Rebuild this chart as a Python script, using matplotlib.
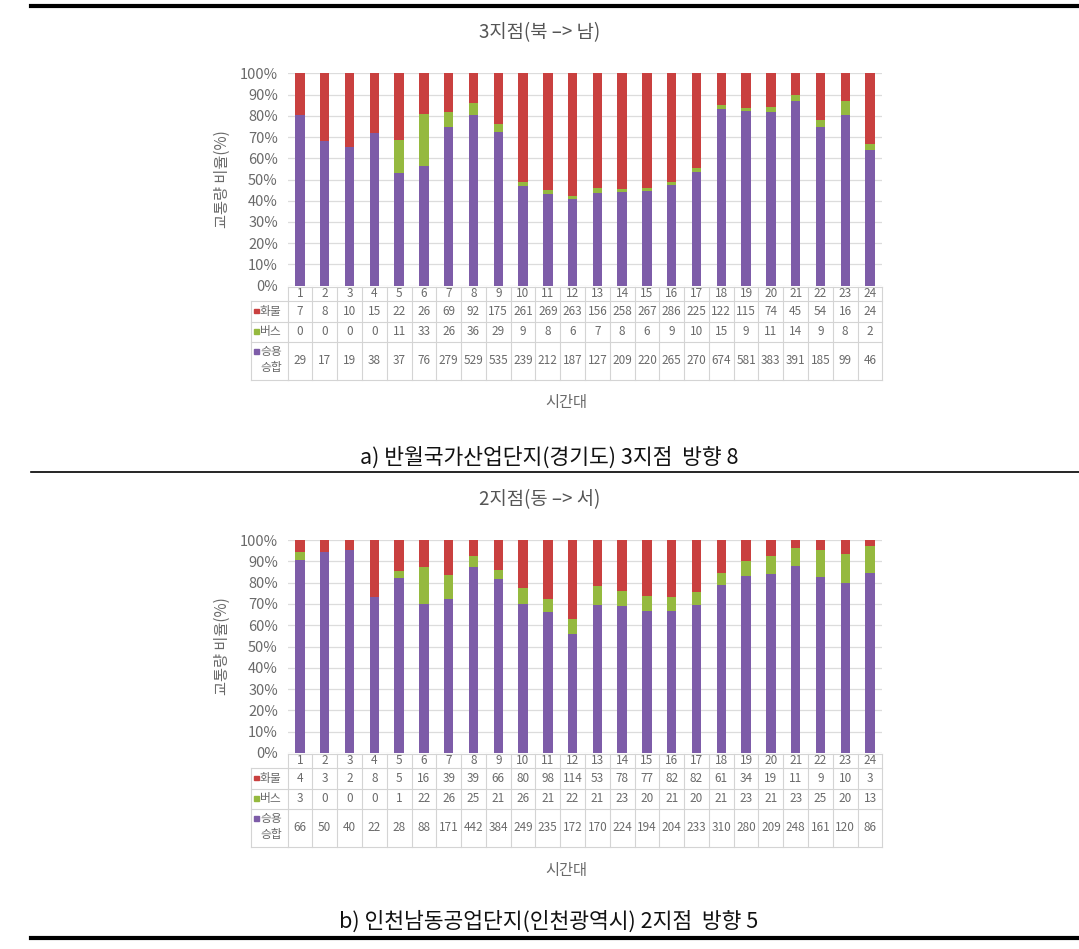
import matplotlib.pyplot as plt
import matplotlib.transforms as mtransforms
from matplotlib.lines import Line2D
from matplotlib.patches import Rectangle

plt.rcParams['font.family'] = ['Noto Sans CJK KR', 'DejaVu Sans']

# ---------------------------------------------------------------
# Data: hourly counts by vehicle type (truck / bus / car+van)
# ---------------------------------------------------------------
hours = list(range(1, 25))

truck_a = [7, 8, 10, 15, 22, 26, 69, 92, 175, 261, 269, 263,
           156, 258, 267, 286, 225, 122, 115, 74, 45, 54, 16, 24]
bus_a = [0, 0, 0, 0, 11, 33, 26, 36, 29, 9, 8, 6,
         7, 8, 6, 9, 10, 15, 9, 11, 14, 9, 8, 2]
car_a = [29, 17, 19, 38, 37, 76, 279, 529, 535, 239, 212, 187,
         127, 209, 220, 265, 270, 674, 581, 383, 391, 185, 99, 46]

truck_b = [4, 3, 2, 8, 5, 16, 39, 39, 66, 80, 98, 114,
           53, 78, 77, 82, 82, 61, 34, 19, 11, 9, 10, 3]
bus_b = [3, 0, 0, 0, 1, 22, 26, 25, 21, 26, 21, 22,
         21, 23, 20, 21, 20, 21, 23, 21, 23, 25, 20, 13]
car_b = [66, 50, 40, 22, 28, 88, 171, 442, 384, 249, 235, 172,
         170, 224, 194, 204, 233, 310, 280, 209, 248, 161, 120, 86]

W, H = 1079, 949
fig = plt.figure(figsize=(W / 100, H / 100), dpi=100)
# pixel coordinates, y pointing down
PX = mtransforms.Affine2D().scale(1 / W, -1 / H).translate(0, 1) + fig.transFigure

PURPLE = '#7d5ca8'
GREEN = '#95b93f'
RED = '#c9403f'
GRID = '#dcdcdc'
TXT = '#6a6a6a'


def panel(top, bottom, title, title_y, truck, bus, car,
          xlabel_y, caption, caption_y):
    left, right = 287.6, 882.4
    ax = fig.add_axes([left / W, 1 - bottom / H, (right - left) / W, (bottom - top) / H])

    tot = [t + b + c for t, b, c in zip(truck, bus, car)]
    p_car = [c / s * 100 for c, s in zip(car, tot)]
    p_bus = [b / s * 100 for b, s in zip(bus, tot)]
    p_truck = [t / s * 100 for t, s in zip(truck, tot)]
    base2 = [a + b for a, b in zip(p_car, p_bus)]

    ax.bar(hours, p_car, width=0.38, color=PURPLE, zorder=3)
    ax.bar(hours, p_bus, width=0.38, bottom=p_car, color=GREEN, zorder=3)
    ax.bar(hours, p_truck, width=0.38, bottom=base2, color=RED, zorder=3)

    ax.set_xlim(0.5, 24.5)
    ax.set_ylim(0, 100)
    ax.set_yticks(range(0, 101, 10))
    ax.set_yticklabels([f'{v}%' for v in range(0, 101, 10)], fontsize=10.5, color=TXT)
    ax.set_xticks([])
    ax.tick_params(axis='y', length=0, pad=7)
    ax.grid(axis='y', color=GRID, linewidth=0.9, zorder=0)
    for s in ax.spines.values():
        s.set_visible(False)

    # title, axis labels, caption
    fig.text(540 / W, 1 - title_y / H, title, ha='center', va='center',
             fontsize=13.5, color='#555555')
    fig.text(222 / W, 1 - (top + bottom) / 2 / H, '교통량 비율(%)', rotation=90,
             ha='center', va='center', fontsize=11, color=TXT)
    fig.text(566 / W, 1 - xlabel_y / H, '시간대', ha='center',
             va='center', fontsize=11, color=TXT)
    fig.text(549 / W, 1 - caption_y / H, caption, ha='center', va='center',
             fontsize=15.5, style='italic', color='#111111')

    # data table below the chart
    BT = mtransforms.blended_transform_factory(ax.transData, PX)
    rows = [bottom + 1, bottom + 15, bottom + 36, bottom + 56, bottom + 94]
    gc = '#d4d4d4'
    lab_x0 = 251
    # horizontal lines
    fig.add_artist(Line2D([0.5, 24.5], [rows[0], rows[0]], transform=BT, color=gc, lw=0.8))
    for y in rows[1:]:
        fig.add_artist(Line2D([lab_x0, left], [y, y], transform=PX, color=gc, lw=0.8))
        fig.add_artist(Line2D([0.5, 24.5], [y, y], transform=BT, color=gc, lw=0.8))
    # vertical lines
    for i in range(25):
        fig.add_artist(Line2D([0.5 + i, 0.5 + i], [rows[0], rows[-1]], transform=BT,
                              color=gc, lw=0.8))
    fig.add_artist(Line2D([lab_x0, lab_x0], [rows[1], rows[-1]], transform=PX, color=gc, lw=0.8))

    for h in hours:
        fig.text(h, (rows[0] + rows[1]) / 2, str(h), transform=BT, ha='center',
                 va='center', fontsize=8.5, color=TXT)
    for vals, r0, r1 in [(truck, rows[1], rows[2]), (bus, rows[2], rows[3]),
                         (car, rows[3], rows[4])]:
        for h, v in zip(hours, vals):
            fig.text(h, (r0 + r1) / 2, str(v), transform=BT, ha='center',
                     va='center', fontsize=8.5, color=TXT)

    # legend keys in the label column
    for col, lab, r0, r1 in [(RED, '화물', rows[1], rows[2]),
                             (GREEN, '버스', rows[2], rows[3])]:
        yc = (r0 + r1) / 2
        fig.add_artist(Rectangle((254, yc - 2.5), 4.5, 4.5, transform=PX, color=col))
        fig.text(260, yc, lab, transform=PX, ha='left', va='center',
                 fontsize=8.5, color=TXT)
    yc = rows[3] + 10
    fig.add_artist(Rectangle((254, yc - 2.5), 4.5, 4.5, transform=PX, color=PURPLE))
    fig.text(260, yc, '승용', transform=PX, ha='left', va='center', fontsize=8.5, color=TXT)
    fig.text(260, yc + 16, '승합', transform=PX, ha='left', va='center', fontsize=8.5, color=TXT)
    return ax


panel(73.3, 285.7, '3지점(북 –> 남)', 33, truck_a, bus_a, car_a, 403,
      'a) 반월국가산업단지(경기도) 3지점  방향 8', 458)
panel(540, 753, '2지점(동 –> 서)', 500, truck_b, bus_b, car_b, 870,
      'b) 인천남동공업단지(인천광역시) 2지점  방향 5', 922)

# separator rules
fig.add_artist(Line2D([31, W], [6, 6], transform=PX, color='black', lw=3))
fig.add_artist(Line2D([31, W], [472, 472], transform=PX, color='black', lw=1.2))
fig.add_artist(Line2D([31, W], [938, 938], transform=PX, color='black', lw=3))

fig.savefig('out.png', dpi=100)
